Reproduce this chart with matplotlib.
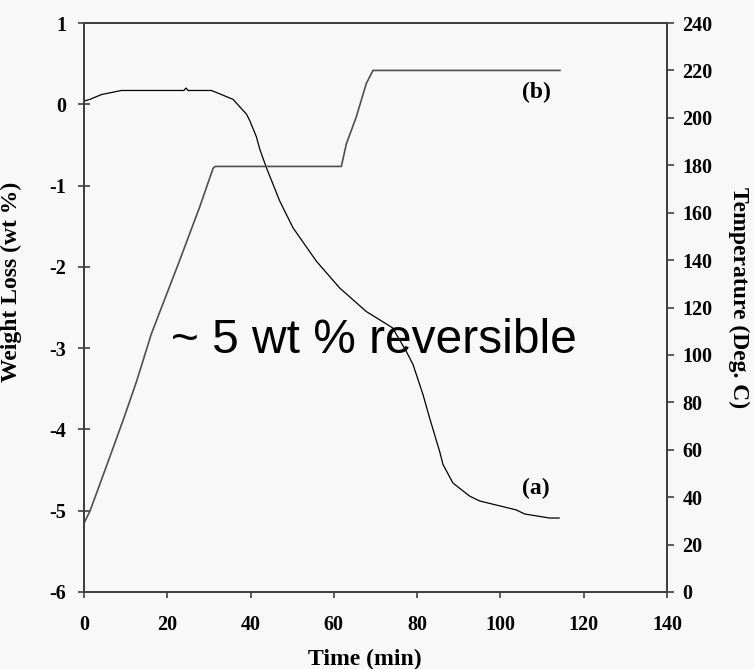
import matplotlib
matplotlib.use("Agg")
from matplotlib import pyplot as plt

# weight loss curve (a), left axis
weight_time = [0, 1.4, 4.2, 9, 24, 24.5, 25, 30.6, 33, 35.8, 39, 39.8, 41.4,
               42.2, 43.8, 47, 50.2, 55.8, 61.4, 67.8, 74.1, 77.4, 79, 81.4,
               83, 85.4, 86.2, 88.6, 92.6, 95, 99.8, 103.8, 105.8, 111.8, 114.1]
weight_loss = [0.04, 0.06, 0.12, 0.17, 0.17, 0.2, 0.17, 0.17, 0.12, 0.06,
               -0.12, -0.2, -0.4, -0.55, -0.78, -1.19, -1.52, -1.93, -2.26,
               -2.55, -2.75, -3.04, -3.2, -3.57, -3.86, -4.27, -4.43, -4.66,
               -4.82, -4.88, -4.94, -4.99, -5.04, -5.09, -5.09]

# temperature program (b), right axis
temp_time = [0, 1.4, 3, 6.2, 9.4, 12.6, 16.2, 23, 27.8, 31, 31.5, 61.8, 63,
             65.4, 67.8, 69.4, 114.3]
temperature = [29, 34, 41.6, 57, 72.5, 88.7, 109, 140, 162.5, 178.7, 179.5,
               179.5, 189, 200.5, 214.5, 220, 220]

x_ticks = [0, 20, 40, 60, 80, 100, 120, 140]
left_ticks = [1, 0, -1, -2, -3, -4, -5, -6]
right_ticks = [0, 20, 40, 60, 80, 100, 120, 140, 160, 180, 200, 220, 240]

SERIF = "Liberation Serif"
BG = "#f8f8f8"
SPINE = "#404040"

plt.rcParams["axes.unicode_minus"] = False


def main():
    fig = plt.figure(figsize=(7.54, 6.69), dpi=100, facecolor=BG)
    ax = fig.add_axes([0.1114, 0.1151, 0.7732, 0.8505], facecolor=BG)
    ax2 = ax.twinx()

    ax.plot(weight_time, weight_loss, color="black", lw=0.9)
    ax2.plot(temp_time, temperature, color="#505050", lw=1.2)

    ax.set_xlim(0, 140)
    ax.set_ylim(-6, 1)
    ax2.set_ylim(0, 240)
    ax.set_xticks(x_ticks)
    ax.set_yticks(left_ticks)
    ax2.set_yticks(right_ticks)

    for a in (ax, ax2):
        for sp in a.spines.values():
            sp.set_color(SPINE)
            sp.set_linewidth(1.4)
        for lab in a.get_xticklabels() + a.get_yticklabels():
            lab.set_fontfamily(SERIF)
            lab.set_fontweight("bold")
            lab.set_fontsize(14.5)

    ax.tick_params(axis="x", direction="out", length=4.5, width=1.2,
                   color=SPINE, pad=12)
    ax.tick_params(axis="y", direction="inout", length=8, width=1.2,
                   color=SPINE, pad=9)
    ax2.tick_params(axis="y", direction="out", length=5, width=1.2,
                    color=SPINE, pad=6)

    font = dict(family=SERIF, weight="bold", size=17)
    ax.set_xlabel("Time (min)", va="center", **font)
    ax.set_ylabel("Weight Loss (wt %)", **font)
    ax2.set_ylabel("Temperature (Deg. C)", rotation=-90, va="center", **font)
    ax.xaxis.set_label_coords(0.482, -0.118)
    ax.yaxis.set_label_coords(-0.106, 0.545)
    ax2.yaxis.set_label_coords(1.122, 0.517)

    ax.text(108.7, 0.14, "(b)", ha="center", va="center", **font)
    ax.text(108.5, -4.72, "(a)", ha="center", va="center", **font)
    ax.text(21.0, -3.06, "~ 5 wt % reversible", ha="left", va="baseline",
            family="Liberation Sans", size=34.5, color="black")

    fig.savefig("out.png", dpi=100, facecolor=BG)


if __name__ == "__main__":
    main()
